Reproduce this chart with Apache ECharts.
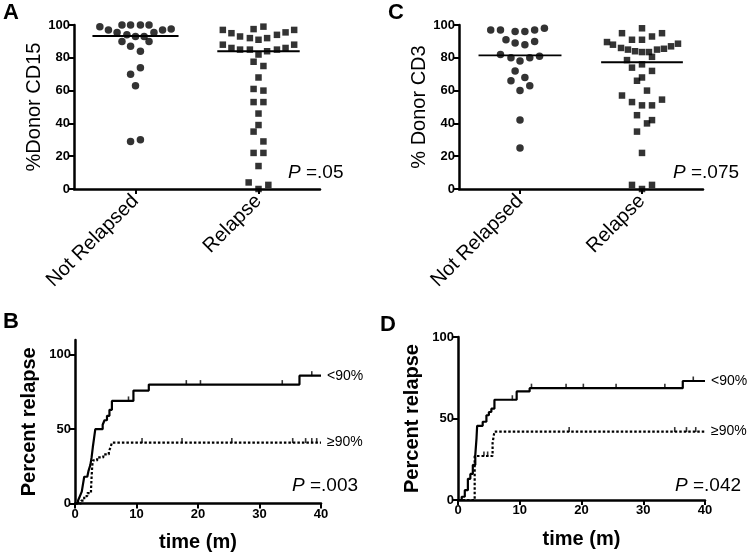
<!DOCTYPE html>
<html>
<head>
<meta charset="utf-8">
<script src="https://cdn.jsdelivr.net/npm/echarts@6/dist/echarts.min.js"></script>
<style>
  html, body { margin: 0; padding: 0; background: #fff; }
  #chart { width: 750px; height: 557px; }
</style>
</head>
<body>
<div id="chart"></div>
<script>
// ---- data ----
var groups = ["Not Relapsed", "Relapse"];

// panel A: % donor CD15 (x = position inside category band, 0..2)
var cd15NotRelapsed = [
  [0.21, 99], [0.28, 97], [0.35, 95.5], [0.39, 100], [0.46, 100], [0.54, 100], [0.61, 100],
  [0.43, 94], [0.5, 93], [0.57, 93], [0.65, 95.5], [0.72, 97], [0.79, 97.5],
  [0.39, 90], [0.61, 90], [0.46, 87], [0.54, 84], [0.54, 74], [0.46, 70], [0.5, 63],
  [0.46, 29], [0.54, 30]
];
var cd15Relapse = [
  [1.21, 97], [1.28, 95], [1.35, 93], [1.43, 92], [1.46, 97.5], [1.54, 99], [1.5, 91],
  [1.57, 92], [1.65, 94], [1.72, 95.5], [1.79, 97],
  [1.21, 88], [1.28, 86], [1.35, 85], [1.43, 85], [1.5, 82], [1.57, 84], [1.65, 85],
  [1.72, 86], [1.79, 88],
  [1.46, 77.6], [1.54, 75], [1.5, 68], [1.46, 61], [1.54, 60], [1.46, 53], [1.54, 53],
  [1.5, 46], [1.5, 39], [1.46, 35], [1.54, 29], [1.46, 22], [1.54, 22], [1.5, 14],
  [1.42, 4], [1.5, 0], [1.58, 2.5]
];
var cd15Means = [93.3, 84];

// panel C: % donor CD3
var cd3NotRelapsed = [
  [0.26, 97], [0.34, 97], [0.46, 96], [0.54, 96], [0.62, 97], [0.70, 98],
  [0.385, 91], [0.46, 89], [0.54, 88], [0.62, 90],
  [0.34, 82], [0.426, 80], [0.5, 78], [0.58, 80], [0.66, 81],
  [0.46, 72], [0.54, 68], [0.426, 66], [0.58, 63], [0.5, 60], [0.5, 42], [0.5, 25]
];
var cd3Relapse = [
  [1.5, 98], [1.336, 95], [1.418, 91], [1.5, 91], [1.582, 93], [1.664, 95],
  [1.213, 89.6], [1.262, 88], [1.328, 86], [1.385, 85], [1.443, 84], [1.5, 83.5],
  [1.557, 83.5], [1.623, 85], [1.68, 85.5], [1.738, 87], [1.795, 88.6],
  [1.377, 78.6], [1.582, 80.6], [1.418, 74], [1.5, 76], [1.582, 72], [1.5, 68],
  [1.459, 66], [1.541, 60], [1.336, 57], [1.418, 53], [1.5, 51], [1.582, 51],
  [1.664, 54.5], [1.459, 45], [1.582, 42], [1.541, 40], [1.459, 35], [1.5, 22],
  [1.418, 2.5], [1.5, 0], [1.582, 2.5]
];
var cd3Means = [81.5, 77.3];

// panel B: cumulative relapse by CD15 chimerism (time in months, percent)
var relB_low = [
  [0, 0], [0.5, 2], [0.8, 5], [1.1, 8], [1.3, 13], [1.5, 18], [2.0, 19], [2.2, 22],
  [2.5, 26], [2.7, 31], [2.9, 38], [3.1, 44], [3.3, 50], [4.5, 53], [4.8, 56],
  [5.2, 59], [5.6, 63], [6.0, 69], [9.5, 76], [12, 80], [36.5, 86], [40, 86]
];
var relB_low_cens = [[8.7, 69], [18.1, 80], [20.4, 80], [33.7, 80], [38.5, 86]];
var relB_high = [
  [0, 0], [1.0, 2], [1.5, 5], [2.0, 7], [2.6, 9], [2.7, 18], [2.8, 25], [2.9, 29],
  [3.6, 31], [4.6, 33], [5.5, 35], [5.8, 38], [6.0, 41], [40, 41]
];
var relB_high_cens = [[10.9, 41], [17.4, 41], [25.5, 41], [35.4, 41], [37.5, 41], [38.5, 41], [39.3, 41]];

// panel D: cumulative relapse by CD3 chimerism
var relD_low = [
  [0, 0], [0.6, 2], [1.1, 6], [1.6, 13], [2.0, 16], [2.4, 21.5], [2.8, 27.7], [3.0, 38],
  [3.1, 45.5], [4.0, 48], [4.6, 52], [5.0, 54], [5.4, 56], [5.9, 61.5], [9.5, 66.6],
  [11.6, 68.6], [36.4, 73], [40, 73]
];
var relD_low_cens = [[8.8, 61.5], [11.9, 68.6], [17.5, 68.6], [20.3, 68.6], [25.6, 68.6], [33.5, 68.6], [38.1, 73]];
var relD_high = [[0, 0], [2.7, 27], [5.6, 35], [5.9, 42], [40, 42]];
var relD_high_cens = [[4.2, 27], [4.8, 27], [18, 42], [35.1, 42], [37, 42], [38.5, 42]];

var pValues = ["=.05", "=.075", "=.003", "=.042"];

// ---- chart ----
var FONT = "Liberation Sans, Arial, Helvetica, sans-serif";
var chart = echarts.init(document.getElementById("chart"), null, { renderer: "canvas" });

var axisLine = { show: true, lineStyle: { color: "#000", width: 2.5 } };
var axisTick = { show: true, length: 5, lineStyle: { color: "#000", width: 2 } };
var tickLabel = { color: "#000", fontSize: 13, fontWeight: "bold", fontFamily: FONT, margin: 4 };

function catAxis(grid) {
  return {
    type: "category", gridIndex: grid, data: groups, boundaryGap: true,
    axisLine: axisLine, axisTick: { show: true, alignWithLabel: true, length: 5, lineStyle: { color: "#000", width: 2 } },
    axisLabel: { rotate: 45, interval: 0, fontSize: 20, color: "#000", fontFamily: FONT, margin: 9 },
    splitLine: { show: false }
  };
}
function bandAxis(grid) {
  return { type: "value", gridIndex: grid, min: 0, max: 2, show: false, splitLine: { show: false } };
}
function timeAxis(grid) {
  return {
    type: "value", gridIndex: grid, min: 0, max: 40, interval: 10,
    name: "time (m)", nameLocation: "middle", nameGap: 29,
    nameTextStyle: { fontSize: 20, fontWeight: "bold", color: "#000", fontFamily: FONT },
    axisLine: axisLine, axisTick: axisTick, axisLabel: tickLabel, splitLine: { show: false }
  };
}
function pctAxis(grid, name, max, interval, gap) {
  return {
    type: "value", gridIndex: grid, min: 0, max: max, interval: interval,
    name: name, nameLocation: "middle", nameGap: gap,
    nameTextStyle: { fontSize: 20, color: "#000", fontFamily: FONT },
    axisLine: axisLine, axisTick: axisTick, axisLabel: tickLabel, splitLine: { show: false }
  };
}

function dots(data, xi, yi, symbol, size) {
  return {
    type: "scatter", xAxisIndex: xi, yAxisIndex: yi, data: data, symbol: symbol,
    symbolSize: size, itemStyle: { color: "#000" }, clip: false, silent: true
  };
}
function meanLine(center, mean, half, xi, yi) {
  return {
    type: "line", xAxisIndex: xi, yAxisIndex: yi, symbol: "none", silent: true,
    data: [[center - half, mean], [center + half, mean]],
    lineStyle: { color: "#000", width: 1.8 }
  };
}
function kmLine(data, xi, yi, dotted, label) {
  return {
    type: "line", step: "end", xAxisIndex: xi, yAxisIndex: yi, data: data,
    symbol: "none", silent: true, clip: false,
    lineStyle: { color: "#000", width: 2.2, type: dotted ? [2.5, 2] : "solid" },
    endLabel: { show: true, formatter: label, distance: 6, fontSize: 14, color: "#000", fontFamily: FONT }
  };
}
function censor(data, xi, yi) {
  return {
    type: "scatter", xAxisIndex: xi, yAxisIndex: yi, data: data, symbol: "rect",
    symbolSize: [1.6, 5], symbolOffset: [0, -2], itemStyle: { color: "#000" }, silent: true, clip: false
  };
}

var yB = pctAxis(2, "Percent relapse", 110, 50, 36);
yB.nameTextStyle.fontWeight = "bold";
yB.axisTick = { show: true, length: 5, lineStyle: { color: "#000", width: 2 }, customValues: [0, 50, 100] };
yB.axisLabel = Object.assign({}, tickLabel, { customValues: [0, 50, 100] });
var yD = pctAxis(3, "Percent relapse", 100, 50, 36);
yD.nameTextStyle.fontWeight = "bold";

function pText(x, y, txt) {
  return {
    type: "text", left: x, top: y,
    style: { text: "{i|P} " + txt, fontSize: 19, fontFamily: FONT, fill: "#000",
      rich: { i: { fontStyle: "italic", fontSize: 19, fontFamily: FONT } } }
  };
}
function letter(x, y, t) {
  return { type: "text", left: x, top: y, style: { text: t, fontSize: 22, fontWeight: "bold", fontFamily: FONT, fill: "#000" } };
}

var option = {
  animation: false,
  backgroundColor: "#fff",
  textStyle: { fontFamily: FONT },
  grid: [
    { left: 74, top: 25, width: 246, height: 164 },
    { left: 459, top: 25, width: 244, height: 164 },
    { left: 75, top: 340, width: 246, height: 163.5 },
    { left: 458, top: 337, width: 247, height: 163 }
  ],
  xAxis: [catAxis(0), bandAxis(0), catAxis(1), bandAxis(1), timeAxis(2), timeAxis(3)],
  yAxis: [
    pctAxis(0, "%Donor CD15", 100, 20, 30),
    pctAxis(1, "% Donor CD3", 100, 20, 30),
    yB, yD
  ],
  series: [
    dots(cd15NotRelapsed, 1, 0, "circle", 7.5),
    dots(cd15Relapse, 1, 0, "rect", 6.5),
    meanLine(0.5, cd15Means[0], 0.35, 1, 0),
    meanLine(1.5, cd15Means[1], 0.335, 1, 0),
    dots(cd3NotRelapsed, 3, 1, "circle", 7.5),
    dots(cd3Relapse, 3, 1, "rect", 6.5),
    meanLine(0.5, cd3Means[0], 0.34, 3, 1),
    meanLine(1.5, cd3Means[1], 0.335, 3, 1),
    kmLine(relB_low, 4, 2, false, "<90%"),
    kmLine(relB_high, 4, 2, true, "\u226590%"),
    censor(relB_low_cens, 4, 2),
    censor(relB_high_cens, 4, 2),
    kmLine(relD_low, 5, 3, false, "<90%"),
    kmLine(relD_high, 5, 3, true, "\u226590%"),
    censor(relD_low_cens, 5, 3),
    censor(relD_high_cens, 5, 3)
  ],
  graphic: [
    letter(3, 2, "A"), letter(388, 2, "C"), letter(3, 311, "B"), letter(380, 314, "D"),
    pText(288, 163, pValues[0]), pText(673, 163, pValues[1]),
    pText(292, 476, pValues[2]), pText(675, 476, pValues[3])
  ]
};
chart.setOption(option);
</script>
</body>
</html>
